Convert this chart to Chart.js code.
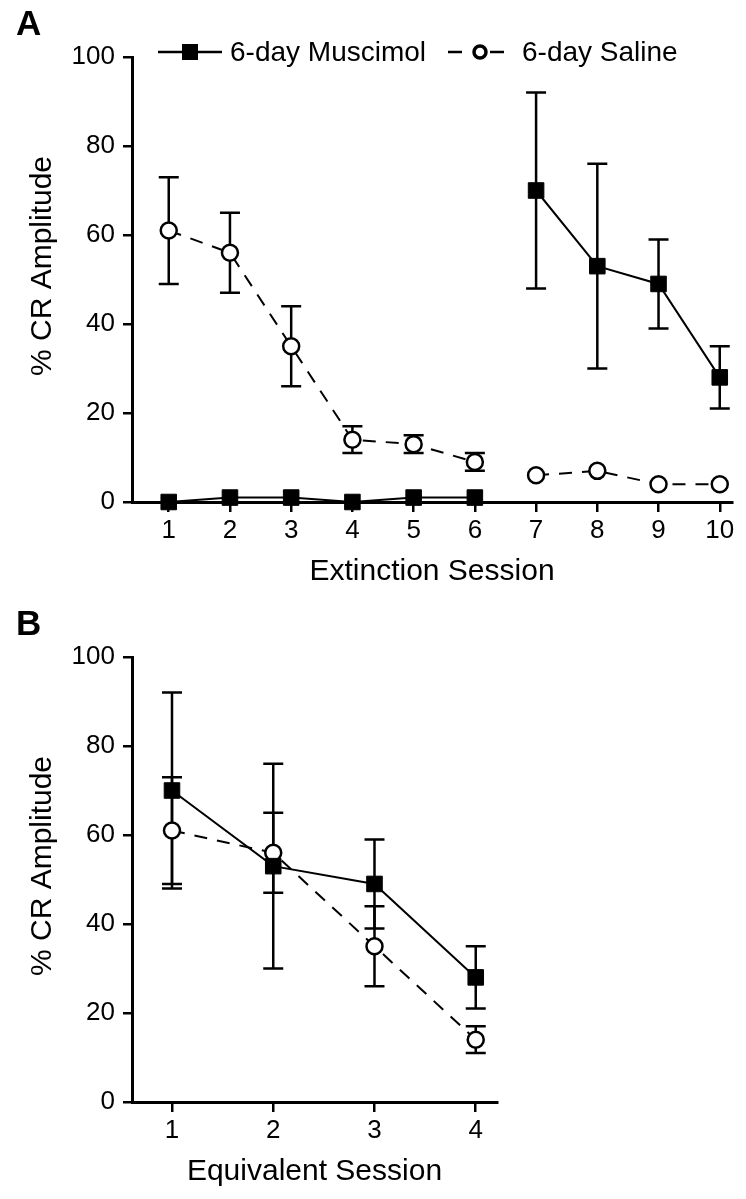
<!DOCTYPE html>
<html>
<head>
<meta charset="utf-8">
<script src="https://cdn.jsdelivr.net/npm/chart.js@4.4.0/dist/chart.umd.min.js"></script>
<style>
  html, body { margin: 0; padding: 0; background: #fff; }
  .panel { position: absolute; left: 0; width: 746px; height: 600px; }
</style>
</head>
<body>
<div class="panel" style="top:0"><canvas id="chartA" width="746" height="600"></canvas></div>
<div class="panel" style="top:600px"><canvas id="chartB" width="746" height="600"></canvas></div>
<script>
// values
const sessions = [1, 2, 3, 4, 5, 6, 7, 8, 9, 10];
const muscimol = [0, 1, 1, 0, 1, 1, 70, 53, 49, 28];
const muscimolErr = [0, 0, 0, 0, 0, 0, 22, 23, 10, 7];
const saline = [61, 56, 35, 14, 13, 9, 6, 7, 4, 4];
const salineErr = [12, 9, 9, 3, 2, 2, 0, 0, 0, 0];
const equivSessions = [1, 2, 3, 4];
const yTicks = [0, 20, 40, 60, 80, 100];
const seriesNames = ["6-day Muscimol", "6-day Saline"];
const yTitle = "% CR Amplitude";

Chart.defaults.font.family = '"Liberation Sans", Arial, Helvetica, sans-serif';
Chart.defaults.color = "#000";

// vertical error bars with caps, drawn under the markers
const errorBars = {
    id: "errorBars",
    beforeDatasetsDraw(chart) {
        const ctx = chart.ctx;
        const xs = chart.scales.x, ys = chart.scales.y;
        ctx.save();
        ctx.strokeStyle = "#000";
        ctx.lineWidth = 2.5;
        chart.data.datasets.forEach(ds => {
            if (!ds.errors) return;
            ds.data.forEach((p, i) => {
                const e = ds.errors[i];
                if (!e) return;
                const px = xs.getPixelForValue(p.x);
                const top = ys.getPixelForValue(p.y + e);
                const bot = ys.getPixelForValue(p.y - e);
                ctx.beginPath();
                ctx.moveTo(px, top); ctx.lineTo(px, bot);
                ctx.moveTo(px - 10, top); ctx.lineTo(px + 10, top);
                ctx.moveTo(px - 10, bot); ctx.lineTo(px + 10, bot);
                ctx.stroke();
            });
        });
        ctx.restore();
    }
};

// panel letter, y title and the line+marker legend
const decorations = {
    id: "decorations",
    afterDraw(chart, args, opts) {
        const ctx = chart.ctx;
        ctx.save();
        ctx.fillStyle = "#000";
        ctx.font = 'bold 35px "Liberation Sans", Arial, sans-serif';
        ctx.textBaseline = "alphabetic";
        ctx.fillText(opts.letter, 16, 35);

        // y axis title sits a little above the middle of the axis
        ctx.save();
        ctx.translate(43, 266);
        ctx.rotate(-Math.PI / 2);
        ctx.font = '30px "Liberation Sans", Arial, sans-serif';
        ctx.textAlign = "center";
        ctx.textBaseline = "middle";
        ctx.fillText(yTitle, 0, 0);
        ctx.restore();

        if (opts.legend) {
            const y = 52;
            const ds = chart.data.datasets;
            ctx.strokeStyle = "#000";
            // muscimol: solid line with filled square
            ctx.lineWidth = 2.5;
            ctx.beginPath(); ctx.moveTo(158, y); ctx.lineTo(222, y); ctx.stroke();
            ctx.fillRect(182, y - 8, 16, 16);
            // saline: dashes with open circle
            ctx.setLineDash([14, 28]);
            ctx.beginPath(); ctx.moveTo(448, y); ctx.lineTo(504, y); ctx.stroke();
            ctx.setLineDash([]);
            ctx.lineWidth = 3.5;
            ctx.fillStyle = "#fff";
            ctx.beginPath(); ctx.arc(480, y, 6, 0, Math.PI * 2); ctx.fill(); ctx.stroke();
            ctx.fillStyle = "#000";
            ctx.font = '28px "Liberation Sans", Arial, sans-serif';
            ctx.textBaseline = "middle";
            ctx.fillText(ds[0].label, 230, y + 1);
            ctx.fillText(ds[1].label, 522, y + 1);
        }
        ctx.restore();
    }
};

function makeDatasets(xs, m, mErr, s, sErr, gapAfter) {
    const gap = c => (gapAfter && c.p0.parsed.x === gapAfter) ? "transparent" : undefined;
    return [
        {
            label: seriesNames[0],
            data: xs.map((x, i) => ({ x: x, y: m[i] })),
            errors: mErr,
            borderColor: "#000",
            borderWidth: 2,
            pointStyle: "rect",
            pointRadius: 11,
            pointBackgroundColor: "#000",
            pointBorderColor: "#000",
            pointBorderWidth: 1,
            clip: false,
            segment: { borderColor: gap }
        },
        {
            label: seriesNames[1],
            data: xs.map((x, i) => ({ x: x, y: s[i] })),
            errors: sErr,
            borderColor: "#000",
            borderWidth: 2,
            borderDash: [13, 10],
            pointStyle: "circle",
            pointRadius: 8,
            pointBackgroundColor: "#fff",
            pointBorderColor: "#000",
            pointBorderWidth: 2.5,
            clip: false,
            segment: { borderColor: gap }
        }
    ];
}

function makeOptions(xMin, xMax, xTicks, xTitle, rightPad, letter, legend) {
    return {
        responsive: false,
        animation: false,
        events: [],
        layout: { padding: { top: 57, right: rightPad, bottom: 0, left: 0 } },
        plugins: {
            legend: { display: false },
            tooltip: { enabled: false },
            decorations: { letter: letter, legend: legend }
        },
        scales: {
            x: {
                type: "linear",
                min: xMin,
                max: xMax,
                afterBuildTicks: sc => { sc.ticks = xTicks.map(v => ({ value: v })); },
                afterFit: sc => { sc.height = 98; },
                grid: { drawOnChartArea: false, color: "#000", lineWidth: 2.5, tickLength: 10 },
                border: { color: "#000", width: 3 },
                ticks: { font: { size: 26 }, color: "#000", padding: 3, maxRotation: 0 },
                title: { display: true, text: xTitle, font: { size: 30 }, color: "#000", padding: { top: 0, bottom: 10 } }
            },
            y: {
                min: 0,
                max: 100,
                afterBuildTicks: sc => { sc.ticks = yTicks.map(v => ({ value: v })); },
                afterFit: sc => { sc.width = 132; },
                grid: { drawOnChartArea: false, color: "#000", lineWidth: 2.5, tickLength: 9 },
                border: { color: "#000", width: 3 },
                ticks: { font: { size: 26 }, color: "#000", padding: 8 }
            }
        }
    };
}

new Chart(document.getElementById("chartA"), {
    type: "line",
    data: { datasets: makeDatasets(sessions, muscimol, muscimolErr, saline, salineErr, 6) },
    options: makeOptions(0.4, 10.2, sessions, "Extinction Session", 14, "A", true),
    plugins: [errorBars, decorations]
});

// panel B: muscimol sessions 7-10 against saline sessions 1-4
new Chart(document.getElementById("chartB"), {
    type: "line",
    data: {
        datasets: makeDatasets(equivSessions,
            muscimol.slice(6, 10), muscimolErr.slice(6, 10),
            saline.slice(0, 4), salineErr.slice(0, 4), null)
    },
    options: makeOptions(0.605, 4.21, equivSessions, "Equivalent Session", 249, "B", false),
    plugins: [errorBars, decorations]
});
</script>
</body>
</html>
